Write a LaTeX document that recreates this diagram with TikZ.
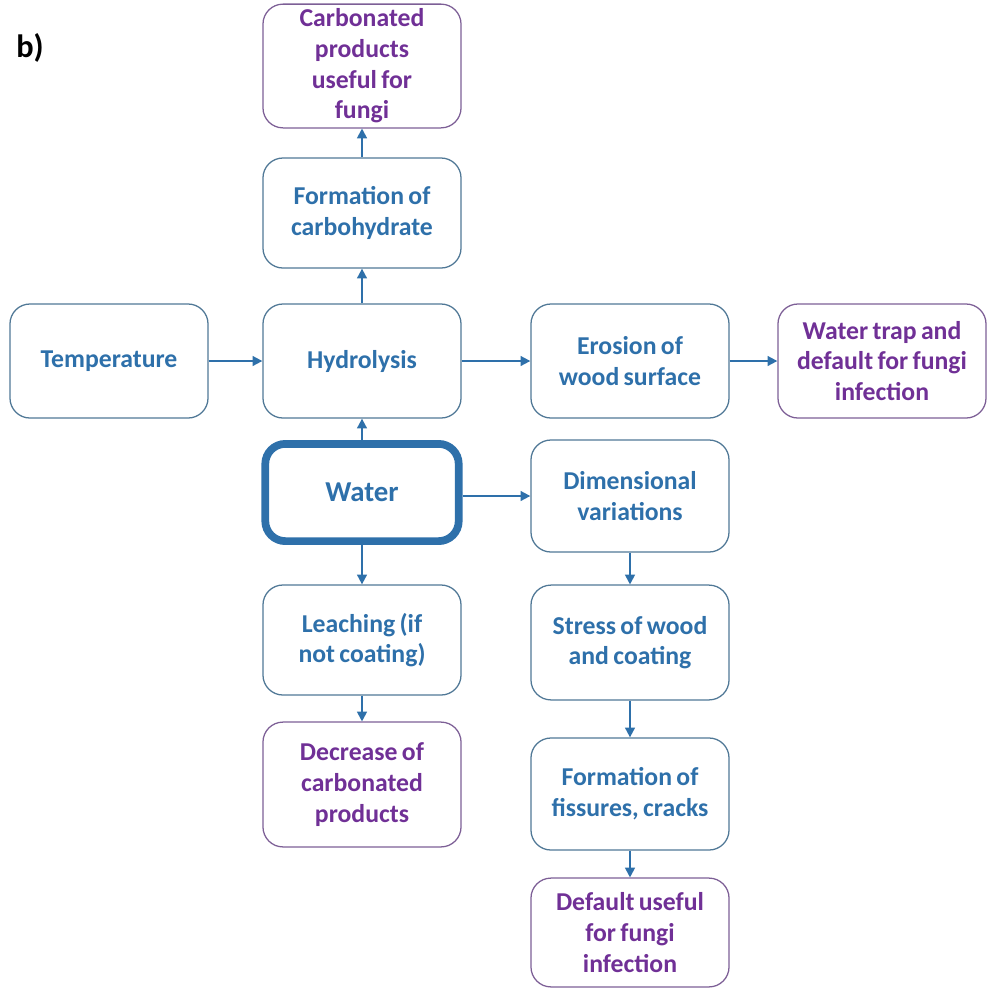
\documentclass[tikz,border=0pt]{standalone}
\usepackage{fontspec}
\setmainfont{Carlito}
\usetikzlibrary{arrows.meta}
\definecolor{boxblue}{RGB}{46,112,170}
\definecolor{lineblue}{RGB}{80,120,150}
\definecolor{boxpurple}{RGB}{112,48,150}
\definecolor{linepurple}{RGB}{125,95,150}
\begin{document}
\begin{tikzpicture}[x=0.025cm,y=-0.025cm,
	blueblock/.style={draw=lineblue,line width=0.9pt,rounded corners=0.5cm,
		minimum width=4.95cm,minimum height=2.8cm,text width=4.6cm,align=center,
		text=boxblue,font=\fontsize{18.3}{21.8}\selectfont\bfseries,
		execute at begin node={\spaceskip=0.17em\relax}},
	purpleblock/.style={blueblock,draw=linepurple,text=boxpurple},
	waterblock/.style={blueblock,draw=boxblue,line width=5.5pt,
		minimum width=4.8cm,minimum height=2.43cm,font=\fontsize{20.5}{24}\selectfont\bfseries},
	link/.style={draw=boxblue,line width=1.4pt,-{Triangle[length=7pt,width=7pt]}}]
	\useasboundingbox (0,0) rectangle (988,989);
	\node [font=\fontsize{23}{27}\selectfont\bfseries] (label) at (30,48) {b)};
	\node [purpleblock] (carb) at (362,66)
	{
		Carbonated\\
		products\\
		useful for\\
		fungi
	};
	\node [blueblock,minimum height=2.75cm] (form) at (362,213)
	{
		Formation of\\
		carbohydrate
	};
	\node [blueblock,minimum height=2.85cm] (temp) at (109,361) {Temperature};
	\node [blueblock,minimum height=2.85cm] (hydro) at (362,361) {Hydrolysis};
	\node [blueblock,minimum height=2.85cm] (eros) at (630,361)
	{
		Erosion of\\
		wood surface
	};
	\node [purpleblock,minimum height=2.85cm,minimum width=5.2cm] (trap) at (882,361)
	{
		Water trap and\\
		default for fungi\\
		infection
	};
	\node [waterblock] (water) at (362,492.5) {Water};
	\node [blueblock] (dim) at (630,496)
	{
		Dimensional\\
		variations
	};
	\node [blueblock,minimum height=2.75cm] (leach) at (362,640)
	{
		Leaching (if\\
		not coating)
	};
	\node [blueblock,minimum height=2.87cm] (stress) at (630,642.5)
	{
		Stress of wood\\
		and coating
	};
	\node [purpleblock,minimum height=3.12cm] (decr) at (362,784.5)
	{
		Decrease of\\
		carbonated\\
		products
	};
	\node [blueblock] (fiss) at (630,794)
	{
		Formation of\\
		fissures, cracks
	};
	\node [purpleblock,minimum height=2.72cm] (default) at (630,932.5)
	{
		Default useful\\
		for fungi\\
		infection
	};
	\draw [link] (temp) -- (hydro);
	\draw [link] (hydro) -- (eros);
	\draw [link] (eros) -- (trap);
	\draw [link] (hydro) -- (form);
	\draw [link] (form) -- (carb);
	\draw [link] (water) -- (hydro);
	\draw [link] (water.east |- dim) -- (dim.west);
	\draw [link] (water) -- (leach);
	\draw [link] (leach) -- (decr);
	\draw [link] (dim) -- (stress);
	\draw [link] (stress) -- (fiss);
	\draw [link] (fiss) -- (default);
\end{tikzpicture}
\end{document}
